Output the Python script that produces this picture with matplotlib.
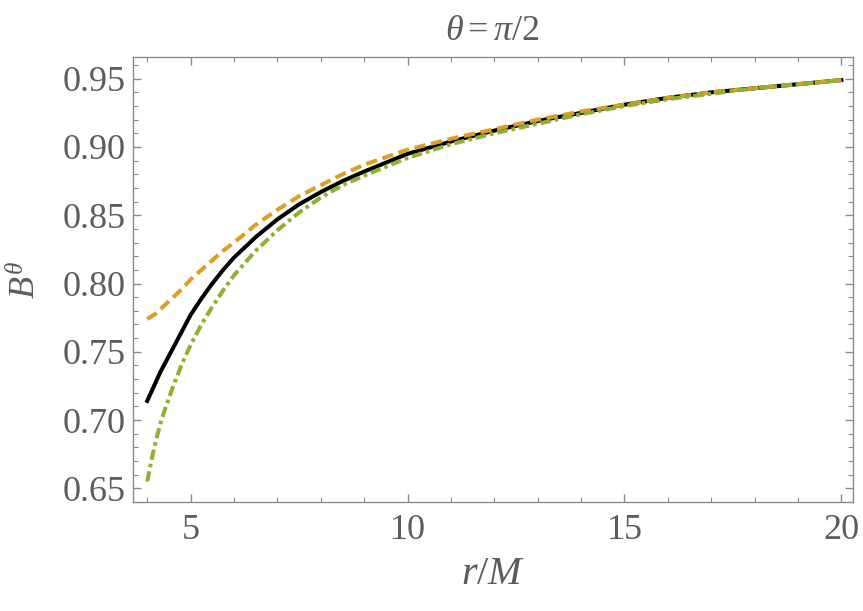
import matplotlib
matplotlib.use("Agg")
import matplotlib.pyplot as plt
from matplotlib.ticker import MultipleLocator, FixedLocator

plt.rcParams['mathtext.fontset'] = 'custom'
plt.rcParams['mathtext.rm'] = 'Liberation Serif'
plt.rcParams['mathtext.it'] = 'Liberation Serif:italic'
plt.rcParams['font.family'] = ['Liberation Serif', 'DejaVu Serif']

r = [4, 4.1, 4.2, 4.3, 4.4, 4.5, 4.6, 4.8, 5, 5.25, 5.5, 5.75, 6, 6.5, 7, 7.5, 8, 8.5, 9,
     10, 11, 12, 13, 14, 15, 16, 17, 18, 19, 20]
b_black = [0.714, 0.721, 0.728, 0.735, 0.741, 0.747, 0.753, 0.765, 0.777, 0.789, 0.800, 0.810,
           0.819, 0.834, 0.847, 0.858, 0.867, 0.875, 0.882,
           0.895, 0.904, 0.912, 0.919, 0.925, 0.931, 0.936, 0.940, 0.943, 0.946, 0.949]
b_orange = [0.774, 0.776, 0.778, 0.781, 0.784, 0.787, 0.790, 0.796, 0.803, 0.810, 0.817, 0.824,
            0.830, 0.843, 0.854, 0.864, 0.872, 0.880, 0.887,
            0.898, 0.906, 0.913, 0.920, 0.926, 0.931, 0.936, 0.940, 0.943, 0.946, 0.949]
b_green = [0.655, 0.671, 0.685, 0.697, 0.707, 0.716, 0.725, 0.741, 0.755, 0.770, 0.783, 0.795,
           0.806, 0.824, 0.839, 0.852, 0.863, 0.872, 0.879,
           0.892, 0.902, 0.910, 0.917, 0.924, 0.930, 0.935, 0.939, 0.943, 0.946, 0.949]

title = r'$\theta=\pi/2$'
xlabel = r'$r/M$'
ylabel = r'$B^{\theta}$'
xticks = [5, 10, 15, 20]
yticks = [0.65, 0.70, 0.75, 0.80, 0.85, 0.90, 0.95]

gray_frame = '#8a8a8a'
gray_text = '#5c5c5c'

fig = plt.figure(figsize=(8.63, 6.11), dpi=100)
ax = fig.add_axes([0.154, 0.1784, 0.834, 0.7283])

lw = 2.9
ax.plot(r, b_black, color='black', lw=lw, solid_joinstyle='round')
ax.plot(r, b_orange, color='#E19C24', lw=lw, dashes=(2.8, 1.4), dash_capstyle='butt')
ax.plot(r, b_green, color='#8FB032', lw=lw, dashes=(2.6, 1.0, 0.9, 1.0), dash_capstyle='butt')

ax.set_xlim(3.67, 20.26)
ax.set_ylim(0.640, 0.9659)

ax.xaxis.set_major_locator(FixedLocator(xticks))
ax.xaxis.set_minor_locator(MultipleLocator(1))
ax.yaxis.set_major_locator(FixedLocator(yticks))
ax.yaxis.set_minor_locator(MultipleLocator(0.01))
ax.set_xticklabels([str(t) for t in xticks])
ax.set_yticklabels([f'{t:.2f}' for t in yticks])

for s in ax.spines.values():
    s.set_color(gray_frame)
    s.set_linewidth(1.0)

ax.tick_params(which='both', direction='in', top=True, right=True, color=gray_frame,
               labelcolor=gray_text, labelsize=26)
ax.tick_params(which='major', length=6, width=1.0, pad=5)
ax.tick_params(which='minor', length=3.5, width=0.8)
ax.tick_params(axis='x', which='major', pad=9)

ax.set_title(title, fontsize=26, color=gray_text, pad=12)
ax.set_xlabel(xlabel, fontsize=29, color=gray_text, labelpad=6)
ax.set_ylabel(ylabel, fontsize=26, color=gray_text, labelpad=14)

fig.savefig('out.png', dpi=100)
